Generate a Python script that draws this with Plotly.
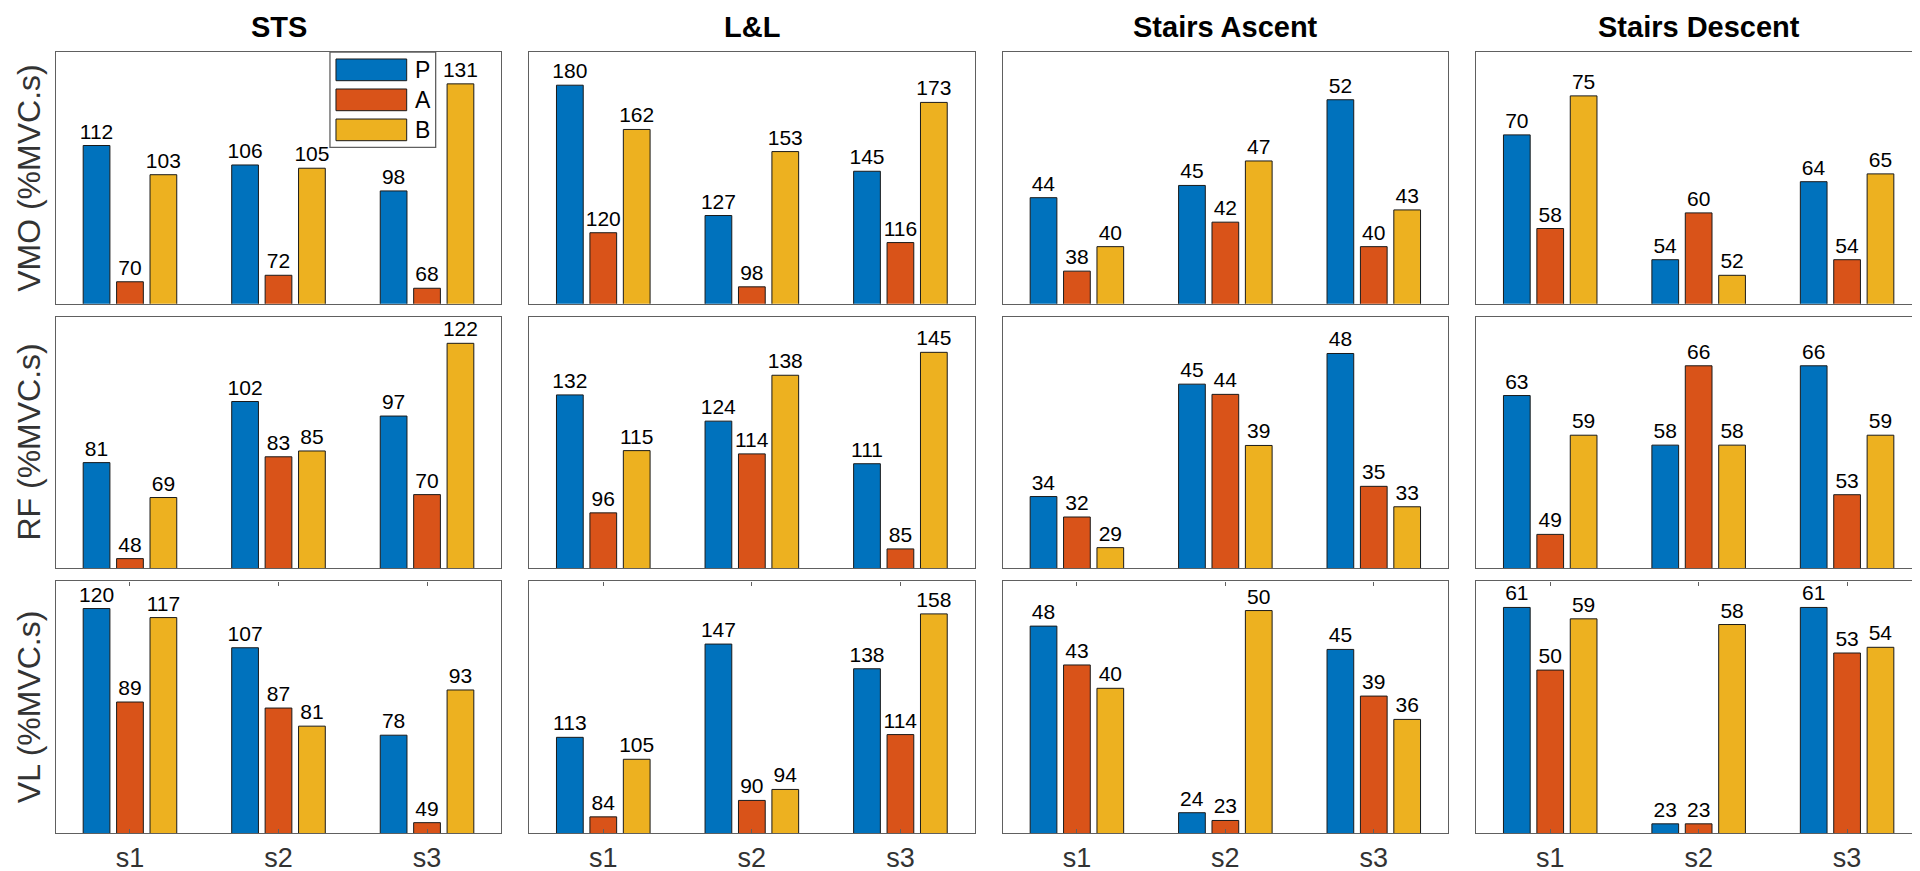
import plotly.graph_objects as go

# ---------------- data ----------------
activities = ["STS", "L&L", "Stairs Ascent", "Stairs Descent"]
muscles = ["VMO", "RF", "VL"]
sessions = ["s1", "s2", "s3"]
groups = ["P", "A", "B"]

# VMO row
vmo_sts_P = [112, 106, 98];  vmo_sts_A = [70, 72, 68];   vmo_sts_B = [103, 105, 131]
vmo_ll_P = [180, 127, 145];  vmo_ll_A = [120, 98, 116];  vmo_ll_B = [162, 153, 173]
vmo_sa_P = [44, 45, 52];     vmo_sa_A = [38, 42, 40];    vmo_sa_B = [40, 47, 43]
vmo_sd_P = [70, 54, 64];     vmo_sd_A = [58, 60, 54];    vmo_sd_B = [75, 52, 65]
# RF row
rf_sts_P = [81, 102, 97];    rf_sts_A = [48, 83, 70];    rf_sts_B = [69, 85, 122]
rf_ll_P = [132, 124, 111];   rf_ll_A = [96, 114, 85];    rf_ll_B = [115, 138, 145]
rf_sa_P = [34, 45, 48];      rf_sa_A = [32, 44, 35];     rf_sa_B = [29, 39, 33]
rf_sd_P = [63, 58, 66];      rf_sd_A = [49, 66, 53];     rf_sd_B = [59, 58, 59]
# VL row
vl_sts_P = [120, 107, 78];   vl_sts_A = [89, 87, 49];    vl_sts_B = [117, 81, 93]
vl_ll_P = [113, 147, 138];   vl_ll_A = [84, 90, 114];    vl_ll_B = [105, 94, 158]
vl_sa_P = [48, 24, 45];      vl_sa_A = [43, 23, 39];     vl_sa_B = [40, 50, 36]
vl_sd_P = [61, 23, 61];      vl_sd_A = [50, 23, 53];     vl_sd_B = [59, 58, 54]

panels = [
    [(vmo_sts_P, vmo_sts_A, vmo_sts_B), (vmo_ll_P, vmo_ll_A, vmo_ll_B),
     (vmo_sa_P, vmo_sa_A, vmo_sa_B), (vmo_sd_P, vmo_sd_A, vmo_sd_B)],
    [(rf_sts_P, rf_sts_A, rf_sts_B), (rf_ll_P, rf_ll_A, rf_ll_B),
     (rf_sa_P, rf_sa_A, rf_sa_B), (rf_sd_P, rf_sd_A, rf_sd_B)],
    [(vl_sts_P, vl_sts_A, vl_sts_B), (vl_ll_P, vl_ll_A, vl_ll_B),
     (vl_sa_P, vl_sa_A, vl_sa_B), (vl_sd_P, vl_sd_A, vl_sd_B)],
]

# ---------------- style ----------------
colors = ["#0072BD", "#D95319", "#EDB120"]
FONT = "Liberation Sans, Arial, Helvetica, sans-serif"
W, H = 1920, 871
frame_color = "#606060"

x_domains = [(47.7, 493.3), (521.0, 966.7), (994.7, 1440.0), (1468.0, 1913.3)]
y_domains = [(44.0, 295.7), (308.7, 560.4), (573.4, 825.0)]  # top, bottom in px

fig = go.Figure()
layout = dict(
    width=W, height=H, margin=dict(l=0, r=0, t=0, b=0),
    paper_bgcolor="white", plot_bgcolor="white",
    barmode="group", bargap=0.325, bargroupgap=0.2,
    showlegend=False, font=dict(family=FONT, color="#000"),
)
annotations = []
shapes = []
xnums = [1, 2, 3]

for r in range(3):
    for c in range(4):
        k = r * 4 + c + 1
        xa = "x" if k == 1 else f"x{k}"
        ya = "y" if k == 1 else f"y{k}"
        series = panels[r][c]
        allv = [v for s in series for v in s]
        lo, hi = 0.93 * min(allv), 1.075 * max(allv)
        for gi, vals in enumerate(series):
            fig.add_trace(go.Bar(
                x=xnums, y=vals, name=groups[gi], xaxis=xa, yaxis=ya,
                marker=dict(color=colors[gi], line=dict(color="#1a1a1a", width=1)),
                text=[str(v) for v in vals], textposition="outside",
                constraintext="none", cliponaxis=True,
                textfont=dict(family=FONT, size=21, color="#000"),
                showlegend=False, hoverinfo="x+y+name",
            ))
        x0, x1 = x_domains[c]
        yt, yb = y_domains[r]
        bottom_row = (r == 2)
        layout["xaxis" if k == 1 else f"xaxis{k}"] = dict(
            domain=[x0 / W, x1 / W], anchor=ya, range=[0.5, 3.5],
            tickvals=xnums, ticktext=sessions,
            showticklabels=bottom_row,
            ticks="inside" if bottom_row else "", ticklen=4, tickwidth=1,
            tickcolor=frame_color,
            tickfont=dict(family=FONT, size=27, color="#333"),
            showline=True, linecolor=frame_color, linewidth=1.3,
            mirror="ticks" if bottom_row else True,
            showgrid=False, zeroline=False, fixedrange=True,
        )
        layout["yaxis" if k == 1 else f"yaxis{k}"] = dict(
            domain=[1 - yb / H, 1 - yt / H], anchor=xa, range=[lo, hi],
            showticklabels=False, ticks="",
            showline=True, linecolor=frame_color, linewidth=1.3, mirror=True,
            showgrid=False, zeroline=False, fixedrange=True,
        )
        if r == 0:
            annotations.append(dict(
                text=f"<b>{activities[c]}</b>", xref=f"{xa} domain", x=0.5,
                yref="paper", y=1 - 19 / H, xanchor="center", yanchor="middle",
                showarrow=False, font=dict(family=FONT, size=29, color="#000"),
            ))
        if c == 0:
            annotations.append(dict(
                text=f"{muscles[r]} (%MVC.s)", xref="paper", x=21 / W,
                yref=f"{ya} domain", y=0.5, xanchor="center", yanchor="middle",
                textangle=-90, showarrow=False,
                font=dict(family=FONT, size=32, color="#333"),
            ))

# ---------------- legend (drawn inside first panel) ----------------
shapes.append(dict(type="rect", xref="x domain", yref="y domain",
                   x0=0.6155, x1=0.8527, y0=0.6214, y1=1.0,
                   line=dict(color=frame_color, width=1.3), fillcolor="white", layer="above"))
sw_y = [(0.886, 0.9722), (0.7668, 0.853), (0.6476, 0.7337)]
for gi in range(3):
    y0, y1 = sw_y[gi]
    shapes.append(dict(type="rect", xref="x domain", yref="y domain",
                       x0=0.6290, x1=0.7877, y0=y0, y1=y1,
                       line=dict(color="#1a1a1a", width=1), fillcolor=colors[gi], layer="above"))
    annotations.append(dict(text=groups[gi], xref="x domain", yref="y domain",
                            x=0.8020, y=(y0 + y1) / 2, xanchor="left", yanchor="middle",
                            showarrow=False, font=dict(family=FONT, size=23, color="#000")))

layout["annotations"] = annotations
layout["shapes"] = shapes
fig.update_layout(**layout)
fig.write_html("out.html")
